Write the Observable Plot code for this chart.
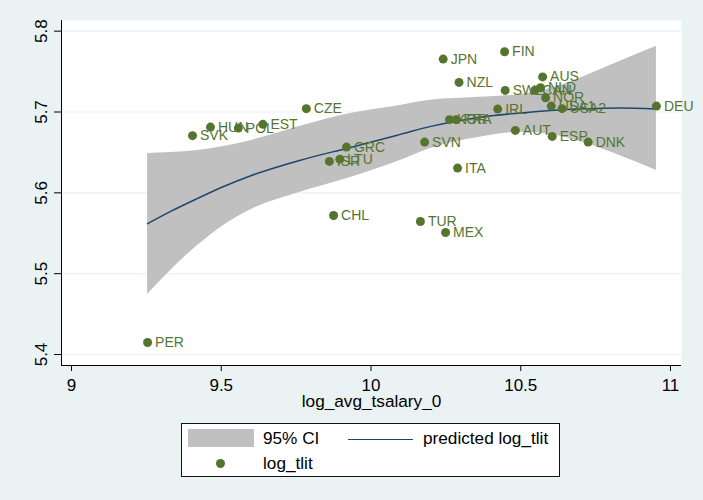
<!DOCTYPE html>
<html>
<head>
<meta charset="utf-8">
<script src="https://cdn.jsdelivr.net/npm/d3@7"></script>
<script src="https://cdn.jsdelivr.net/npm/@observablehq/plot@0.6"></script>
<style>
  html, body { margin: 0; padding: 0; background: #eaf2f3; }
  #wrap { width: 703px; height: 500px; background: #eaf2f3; position: relative; overflow: hidden;
          font-family: "Liberation Sans", Arial, sans-serif; }
  #legend { position: absolute; left: 181px; top: 423px; width: 379px; height: 54px;
            background: #fff; border: 1px solid #111; box-sizing: border-box; font-size: 17.2px; color: #000; }
  #legend .sw { position: absolute; }
  #legend .t { position: absolute; line-height: 1; white-space: nowrap; }
</style>
</head>
<body>
<div id="wrap">
  <div id="chart"></div>
  <div id="legend">
    <div class="sw" style="left:6px;top:5px;width:66px;height:18px;background:#c0c0c0;"></div>
    <div class="t" style="left:81px;top:6px;">95% CI</div>
    <div class="sw" style="left:166px;top:15px;width:65px;height:0;border-top:1.5px solid #1a476f;"></div>
    <div class="t" style="left:241px;top:6px;">predicted log_tlit</div>
    <div class="sw" style="left:34px;top:35px;width:9px;height:9px;border-radius:50%;background:#55752f;"></div>
    <div class="t" style="left:81px;top:31px;">log_tlit</div>
  </div>
</div>
<script>
// Scatter data: country, log_avg_tsalary_0, log_tlit
const countries = ["PER","SVK","HUN","POL","EST","CZE","ISR","LTU","GRC","CHL","SVN","ITA","TUR","MEX","KOR","FRA","JPN","NZL","FIN","SWE","IRL","AUT","CAN","NLD","AUS","NOR","USA1","USA2","ESP","DNK","DEU"];
const salary = [9.254,9.404,9.464,9.557,9.639,9.784,9.861,9.896,9.918,9.875,10.179,10.289,10.165,10.249,10.262,10.284,10.241,10.294,10.446,10.448,10.423,10.482,10.547,10.566,10.573,10.583,10.602,10.638,10.605,10.725,10.953];
const tlit = [5.4149,5.6707,5.6813,5.6801,5.6847,5.7041,5.6389,5.6417,5.6566,5.5720,5.6628,5.6306,5.5646,5.5510,5.6905,5.6905,5.7655,5.7366,5.7746,5.7267,5.7036,5.6772,5.7267,5.7301,5.7434,5.7175,5.7073,5.7041,5.6698,5.6628,5.7073];

// Fitted quadratic prediction and 95% CI
const fitX = [9.254,9.331,9.421,9.508,9.601,9.761,9.932,10.098,10.199,10.359,10.499,10.599,10.720,10.830,10.953];
const fitY = [5.5618,5.5770,5.5931,5.6079,5.6215,5.6401,5.6562,5.6723,5.6822,5.6933,5.6989,5.7020,5.7041,5.7048,5.7038];
const ciHi = [5.6488,5.6500,5.6525,5.6574,5.6649,5.6822,5.6983,5.7082,5.7144,5.7181,5.7218,5.7292,5.7453,5.7626,5.7812];
const ciLo = [5.4743,5.5040,5.5349,5.5597,5.5795,5.6005,5.6191,5.6401,5.6550,5.6686,5.6748,5.6723,5.6611,5.6463,5.6277];

const xTicks = [9, 9.5, 10, 10.5, 11];
const yTicks = [5.4, 5.5, 5.6, 5.7, 5.8];
const xTitle = "log_avg_tsalary_0";

const pts = countries.map((c, i) => ({c, x: salary[i], y: tlit[i]}));
const fit = fitX.map((x, i) => ({x, y: fitY[i], lo: ciLo[i], hi: ciHi[i]}));

const xDom = [8.9666, 11.0367];
const yDom = [5.3864, 5.8132];
const green = "#55752f", navy = "#1a476f";

const chart = Plot.plot({
  width: 703,
  height: 410,
  marginLeft: 61,
  marginRight: 22,
  marginTop: 20,
  marginBottom: 45,
  style: {background: "#eaf2f3", fontFamily: "'Liberation Sans', Arial, sans-serif", fontSize: "17px", color: "#000"},
  x: {domain: xDom},
  y: {domain: yDom},
  marks: [
    Plot.frame({fill: "white", stroke: null}),
    Plot.gridY(yTicks, {stroke: "#eaf2f3", strokeOpacity: 1, strokeWidth: 1.2}),
    Plot.areaY(fit, {x: "x", y1: "lo", y2: "hi", fill: "#c0c0c0", fillOpacity: 1, curve: "monotone-x"}),
    Plot.line(fit, {x: "x", y: "y", stroke: navy, strokeWidth: 1.5, curve: "monotone-x"}),
    Plot.dot(pts, {x: "x", y: "y", r: 4.5, fill: green, stroke: null}),
    Plot.text(pts, {x: "x", y: "y", text: "c", dx: 7.5, textAnchor: "start", fill: green, fontSize: 14}),
    Plot.ruleX([xDom[0]], {stroke: "#000", strokeWidth: 1}),
    Plot.ruleY([yDom[0]], {stroke: "#000", strokeWidth: 1}),
    Plot.axisX(xTicks, {tickSize: 6, tickPadding: 7, label: null, fontSize: 17, tickFormat: d => String(d), stroke: "#000"}),
    Plot.axisY(yTicks, {tickSize: 7, tickPadding: 7.5, tickRotate: -90, label: null, fontSize: 17, tickFormat: d => d.toFixed(1), stroke: "#000"}),
    Plot.text([xTitle], {frameAnchor: "bottom", dy: 41, lineAnchor: "bottom", fontSize: 17.2, fill: "#000"})
  ]
});
document.getElementById("chart").appendChild(chart);
</script>
</body>
</html>
